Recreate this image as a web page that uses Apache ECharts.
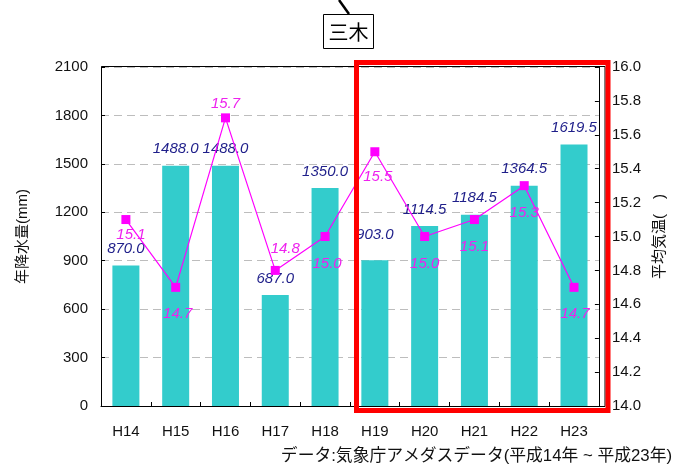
<!DOCTYPE html>
<html>
<head>
<meta charset="utf-8">
<script src="https://cdn.jsdelivr.net/npm/echarts@6/dist/echarts.min.js"></script>
<style>
html,body{margin:0;padding:0;background:#fff;}
#main{width:675px;height:467px;}
</style>
</head>
<body>
<div id="main"></div>
<script>
// ---- data ----
const categories = ['H14','H15','H16','H17','H18','H19','H20','H21','H22','H23'];
const rainfall = [870.0, 1488.0, 1488.0, 687.0, 1350.0, 903.0, 1114.5, 1184.5, 1364.5, 1619.5];
const temperature = [15.1, 14.7, 15.7, 14.8, 15.0, 15.5, 15.0, 15.1, 15.3, 14.7];
const leftTicks = [0, 2100, 300];
const rightTicks = [14.0, 16.0, 0.2];

// ---- label placement (style, separate from data) ----
const tempLabelOffsets = [[5,15],[2,26],[0,-14],[10,-22],[2,27],[3,25],[0,27],[0,27],[0,27],[1,26]];
const rainLabelExtra = [0,0,0,0,0,-9,0,0,0,0];

const FONT = '"Liberation Sans", Arial, "Noto Sans CJK JP", sans-serif';
const chart = echarts.init(document.getElementById('main'), null, {renderer:'canvas'});

const option = {
  animation: false,
  backgroundColor: '#ffffff',
  textStyle: {fontFamily: FONT},
  grid: {left: 101, right: 70, top: 67, bottom: 61, show: false},
  xAxis: {
    type: 'category',
    data: categories,
    boundaryGap: true,
    axisLine: {lineStyle: {color: '#000', width: 1}},
    axisTick: {show: true, inside: true, length: 4, lineStyle: {color: '#000'}},
    axisLabel: {color: '#111', fontSize: 15, margin: 18, fontFamily: FONT}
  },
  yAxis: [
    {
      type: 'value',
      min: leftTicks[0], max: leftTicks[1], interval: leftTicks[2],
      name: '年降水量(mm)',
      nameLocation: 'middle', nameRotate: 90, nameGap: 71,
      nameTextStyle: {color: '#111', fontSize: 15, fontFamily: FONT},
      axisLine: {show: true, lineStyle: {color: '#000'}},
      axisTick: {show: true, inside: true, length: 4, lineStyle: {color: '#000'}},
      axisLabel: {color: '#111', fontSize: 15, margin: 13, fontFamily: FONT,
        formatter: v => String(v)},
      splitLine: {show: true, lineStyle: {color: '#bdbdbd', type: [8, 5], width: 1}}
    },
    {
      type: 'value',
      position: 'right',
      min: rightTicks[0], max: rightTicks[1], interval: rightTicks[2],
      name: '平均気温(　)',
      nameLocation: 'middle', nameRotate: 90, nameGap: 52,
      nameTextStyle: {color: '#111', fontSize: 15, fontFamily: FONT},
      axisLine: {show: true, lineStyle: {color: '#000'}},
      axisTick: {show: true, inside: true, length: 4, lineStyle: {color: '#000'}},
      axisLabel: {color: '#111', fontSize: 15, margin: 13, fontFamily: FONT,
        formatter: v => v.toFixed(1)},
      splitLine: {show: false}
    }
  ],
  series: [
    {
      type: 'bar',
      yAxisIndex: 0,
      barWidth: 27,
      itemStyle: {color: '#33cccc'},
      data: rainfall.map((v, i) => ({
        value: v,
        label: {offset: [0, rainLabelExtra[i]]}
      })),
      label: {
        show: true, position: 'top', distance: 9,
        color: '#1f1f8a', fontStyle: 'italic', fontSize: 15, fontFamily: FONT,
        formatter: p => p.value.toFixed(1)
      },
      z: 2
    },
    {
      type: 'line',
      yAxisIndex: 1,
      symbol: 'rect',
      symbolSize: 9,
      lineStyle: {color: '#ff00ff', width: 1.2},
      itemStyle: {color: '#ff00ff'},
      data: temperature.map((v, i) => ({
        value: v,
        label: {offset: tempLabelOffsets[i]}
      })),
      label: {
        show: true, position: 'inside', align: 'center', verticalAlign: 'middle',
        color: '#ee22ee', fontStyle: 'italic', fontSize: 15, fontFamily: FONT,
        formatter: p => p.value.toFixed(1)
      },
      z: 3
    }
  ],
  graphic: [
    {type: 'rect', shape: {x: 101.5, y: 66.5, width: 503.5, height: 340}, style: {fill: 'none', stroke: '#000', lineWidth: 1}, z: 15},
    {type: 'line', shape: {x1: 339, y1: 0, x2: 349, y2: 14}, style: {stroke: '#000', lineWidth: 2.5}, z: 10},
    {type: 'rect', shape: {x: 323.5, y: 14.5, width: 50, height: 34}, style: {fill: '#fff', stroke: '#000', lineWidth: 1}, z: 10},
    {type: 'text', x: 348.5, y: 32, style: {text: '三木', fontSize: 20, fontFamily: '"Noto Sans CJK JP", sans-serif', fill: '#000', align: 'center', verticalAlign: 'middle'}, z: 11},
    {type: 'rect', shape: {x: 356.5, y: 62.5, width: 251.5, height: 348}, style: {fill: 'none', stroke: '#ff0000', lineWidth: 5}, z: 20},
    {type: 'text', right: 3, top: 448, style: {text: 'データ:気象庁アメダスデータ(平成14年 ~ 平成23年)', fontSize: 16.8, fontFamily: FONT, fill: '#111', align: 'right'}, z: 10}
  ]
};
chart.setOption(option);
</script>
</body>
</html>
